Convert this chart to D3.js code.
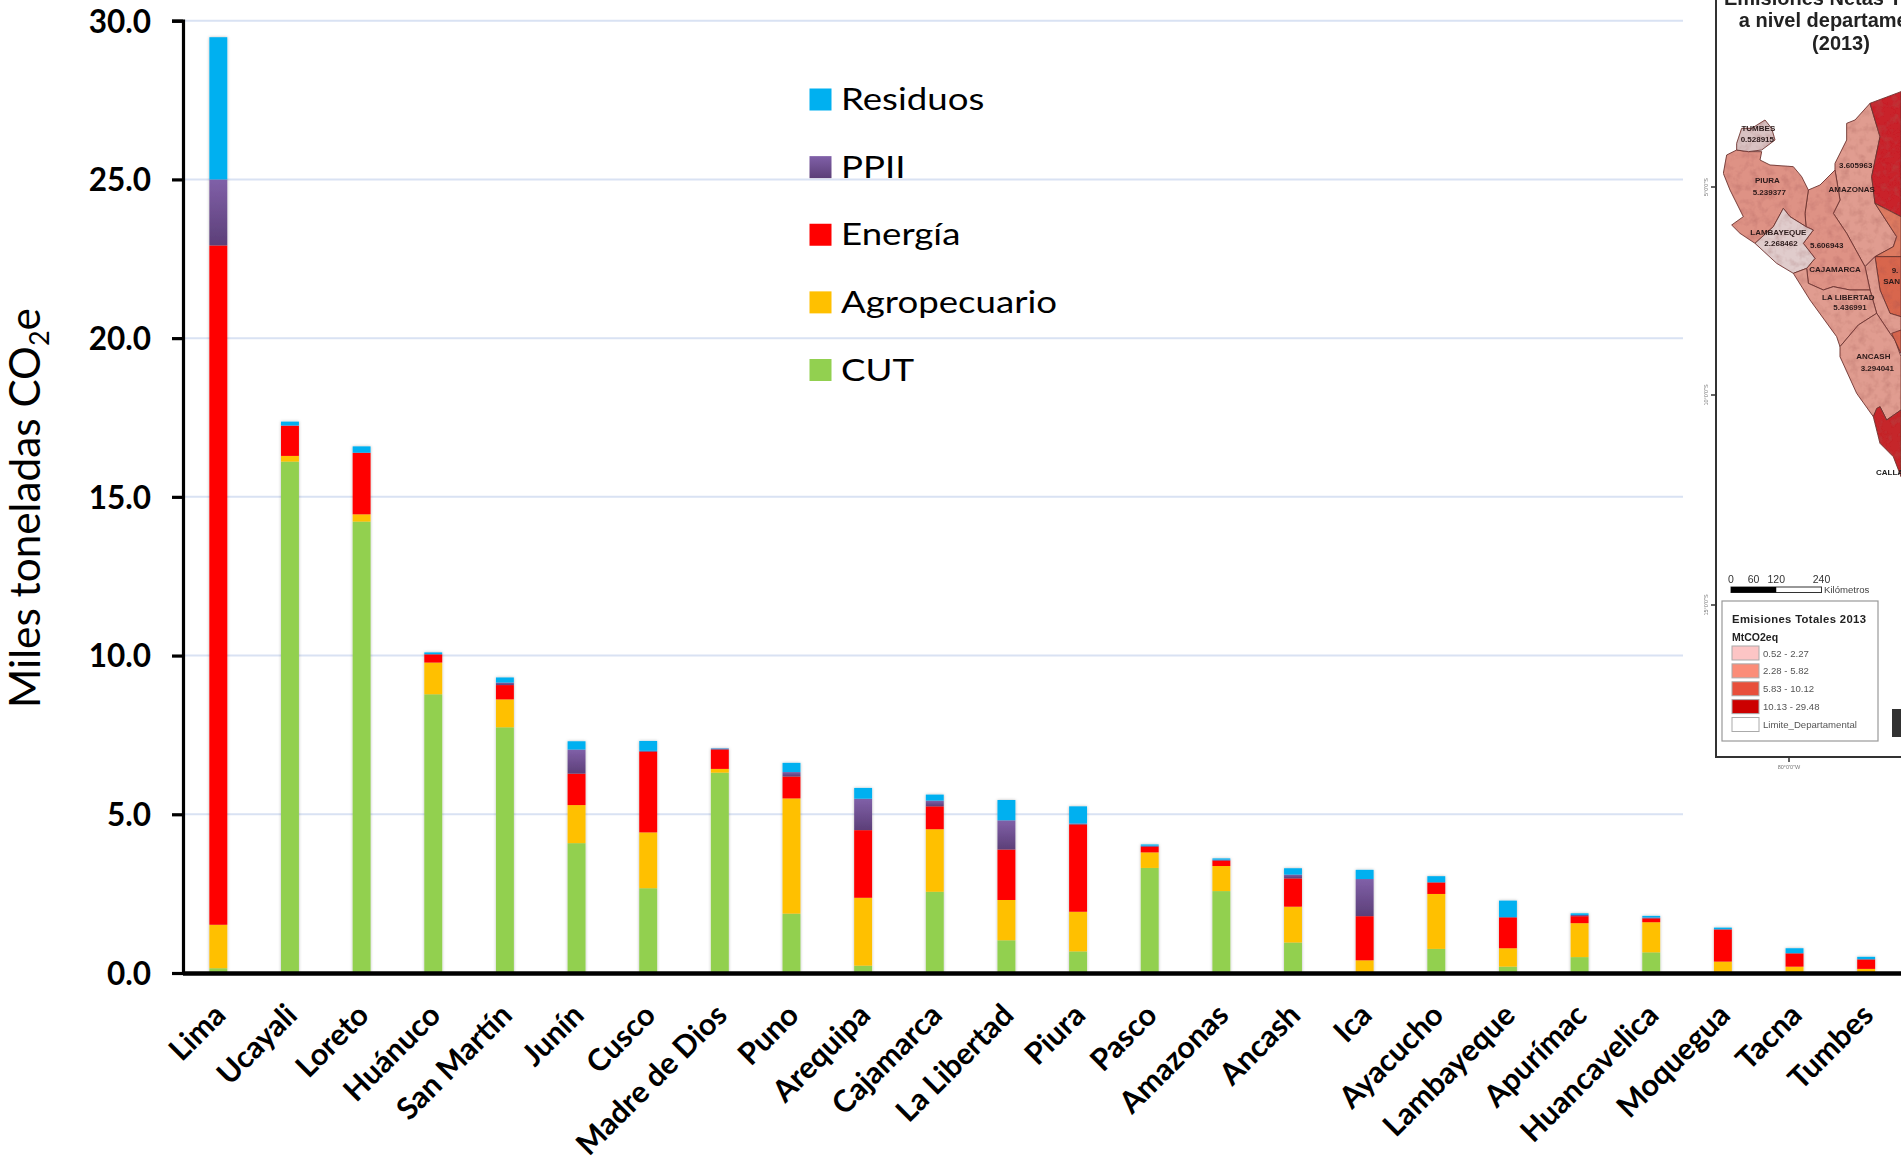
<!DOCTYPE html>
<html>
<head>
<meta charset="utf-8">
<script src="https://cdn.jsdelivr.net/npm/d3@7"></script>
<style>
  html, body { margin: 0; padding: 0; background: #fff; overflow: hidden; }
  svg { display: block; }
</style>
</head>
<body>
<svg id="canvas" width="1901" height="1162"></svg>
<script>
let departamentos = ['Lima','Ucayali','Loreto','Huánuco','San Martín','Junín','Cusco','Madre de Dios','Puno','Arequipa','Cajamarca','La Libertad','Piura','Pasco','Amazonas','Ancash','Ica','Ayacucho','Lambayeque','Apurímac','Huancavelica','Moquegua','Tacna','Tumbes']

// values, same order as departamentos
let cut      = [0.15,16.11,14.22,8.78,7.74,4.09,2.67,6.31,1.87,0.23,2.56,1.03,0.68,3.31,2.58,0.96,0.03,0.76,0.20,0.50,0.65,0.00,0.00,0.00]
let agro     = [1.37,0.18,0.23,1.00,0.88,1.20,1.76,0.12,3.63,2.14,1.97,1.27,1.25,0.49,0.79,1.13,0.37,1.73,0.58,1.07,0.95,0.36,0.20,0.13]
let energia  = [21.40,0.95,1.94,0.26,0.45,0.99,2.54,0.61,0.69,2.13,0.72,1.59,2.75,0.18,0.17,0.89,1.39,0.36,0.97,0.22,0.12,1.01,0.42,0.30]
let ppii     = [2.08,0.01,0.00,0.00,0.08,0.76,0.03,0.03,0.14,0.99,0.18,0.92,0.03,0.03,0.03,0.12,1.17,0.01,0.01,0.04,0.03,0.01,0.00,0.00]
let residuos = [4.48,0.12,0.20,0.06,0.16,0.26,0.31,0.01,0.29,0.34,0.19,0.64,0.54,0.04,0.04,0.20,0.29,0.19,0.52,0.05,0.05,0.05,0.16,0.08]

let seriesKeys = ['CUT','Agropecuario','Energía','PPII','Residuos']
let legendOrder = ['Residuos','PPII','Energía','Agropecuario','CUT']
let yTicks = [0,5,10,15,20,25,30]

let mapLegendTitle = 'Emisiones Totales 2013'
let mapLegendUnit = 'MtCO2eq'
let mapLegendLabels = ['0.52 - 2.27','2.28 - 5.82','5.83 - 10.12','10.13 - 29.48','Limite_Departamental']
let scaleBarLabels = [0,60,120,240]

let colors = {'CUT':'#92d050','Agropecuario':'#ffc000','Energía':'#ff0000','PPII':'url(#ppiiGrad)','Residuos':'#00b0f0'}
let sansFont = 'Lato, Carlito, sans-serif'
let mapFont = '"Liberation Sans", Arial, sans-serif'

let svg = d3.select('#canvas')
let defs = svg.append('defs')

let grad = defs.append('linearGradient').attr('id','ppiiGrad').attr('x1',0).attr('x2',0).attr('y1',0).attr('y2',1)
grad.append('stop').attr('offset','0%').attr('stop-color','#8060a8')
grad.append('stop').attr('offset','100%').attr('stop-color','#5c3f78')

let shadow = defs.append('filter').attr('id','barShadow').attr('x','-30%').attr('width','160%').attr('y','-5%').attr('height','110%')
shadow.append('feDropShadow').attr('dx',0).attr('dy',0).attr('stdDeviation',1.6).attr('flood-color','#000').attr('flood-opacity',0.28)

let soft = defs.append('filter').attr('id','soft')
soft.append('feGaussianBlur').attr('stdDeviation',0.5)

// hillshade look for the inset map
let relief = defs.append('filter').attr('id','relief').attr('x',0).attr('y',0).attr('width','100%').attr('height','100%')
relief.append('feTurbulence').attr('type','fractalNoise').attr('baseFrequency',0.12).attr('numOctaves',3).attr('seed',4).attr('result','n')
relief.append('feColorMatrix').attr('in','n').attr('type','matrix')
  .attr('values','0 0 0 0 0.35  0 0 0 0 0.08  0 0 0 0 0.08  0.8 0 0 0 -0.36').attr('result','s')
relief.append('feComposite').attr('in','s').attr('in2','SourceAlpha').attr('operator','in').attr('result','t')
relief.append('feMerge').selectAll('feMergeNode').data(['SourceGraphic','t']).enter().append('feMergeNode').attr('in',d => d)

// ---- chart ----
let x = d3.scaleBand().domain(departamentos).range([182.5,1902]).paddingInner(0.75).paddingOuter(0.375)
let y = d3.scaleLinear().domain([0,30]).range([973,20.7])

let rows = departamentos.map((d,i) => ({
  name: d, 'CUT': cut[i], 'Agropecuario': agro[i], 'Energía': energia[i], 'PPII': ppii[i], 'Residuos': residuos[i]
}))
let stacked = d3.stack().keys(seriesKeys)(rows)

svg.append('g').selectAll('line')
  .data(yTicks.filter(d => d > 0))
  .enter().append('line')
  .attr('x1',184).attr('x2',1683)
  .attr('y1',d => y(d)).attr('y2',d => y(d))
  .attr('stroke','#d9e2f3').attr('stroke-width',2)

// legend sits on top of the gridlines
let legendY = d3.scalePoint().domain(legendOrder).range([99.5,370])
let legend = svg.append('g').selectAll('g').data(legendOrder).enter().append('g')
  .attr('transform',d => `translate(809.5,${legendY(d)})`)
legend.append('rect').attr('x',0).attr('y',-11).attr('width',22).attr('height',22).attr('fill',d => colors[d])
legend.append('text')
  .attr('transform','translate(31.5,10.5) scale(1.163,1)')
  .attr('font-family',sansFont).attr('font-size',31.5).attr('fill','#000').text(d => d)

let bars = svg.append('g').attr('filter','url(#barShadow)')
bars.selectAll('g').data(stacked).enter().append('g')
  .attr('fill',d => colors[d.key])
  .selectAll('rect').data(d => d).enter().append('rect')
  .attr('x',d => x(d.data.name))
  .attr('width',x.bandwidth())
  .attr('y',d => y(d[1]))
  .attr('height',d => y(d[0]) - y(d[1]))

let yAxis = svg.append('g').attr('transform','translate(183,0)')
  .call(d3.axisLeft(y).tickValues(yTicks).tickFormat(d3.format('.1f')).tickSize(11).tickPadding(21))
yAxis.select('.domain').attr('stroke','#000').attr('stroke-width',3.2)
yAxis.selectAll('.tick line').attr('stroke','#000').attr('stroke-width',3.2)
yAxis.selectAll('text').attr('font-family',sansFont).attr('font-weight',700).attr('font-size',31.5).attr('fill','#000').attr('dy','0.36em')

let xAxis = svg.append('g').attr('transform','translate(0,973)')
  .call(d3.axisBottom(x).tickSize(0))
xAxis.select('.domain').attr('stroke','#000').attr('stroke-width',4.4)
xAxis.selectAll('text')
  .attr('font-family',sansFont).attr('font-weight',700).attr('font-size',30.4).attr('fill','#000')
  .attr('text-anchor','end')
  .attr('transform','translate(-6,29) rotate(-45)')
  .attr('x',0).attr('y',0).attr('dy','0.7em')

let yTitle = svg.append('text')
  .attr('transform','translate(40,508) rotate(-90)')
  .attr('text-anchor','middle')
  .attr('font-family',sansFont).attr('font-size',42.3).attr('fill','#000')
yTitle.append('tspan').text('Miles toneladas CO')
yTitle.append('tspan').attr('font-size',27).attr('dy',9).text('2')
yTitle.append('tspan').attr('dy',-9).text('e')

// ---- inset map (traced in crop units, then scaled to the page) ----
let mapX = d3.scaleLinear().domain([0,663]).range([1680,1901])
let mapY = d3.scaleLinear().domain([0,1200]).range([0,400])
let mapLine = d3.line().x(d => mapX(d[0])).y(d => mapY(d[1])).curve(d3.curveLinearClosed)

let mapRegions = [
  {fill:'#e09c90', pts:[[570,310],[525,360],[500,370],[500,420],[465,490],[465,510],[480,600],[460,640],[500,700],[555,800],[585,770],[640,740],[650,710],[585,610],[575,530],[600,410]]},
  {fill:'#c9202a', pts:[[570,310],[663,275],[663,650],[585,610],[575,530],[600,410]]},
  {fill:'#dd7a60', pts:[[585,610],[663,650],[663,770],[585,770],[640,740],[650,710]]},
  {fill:'#d8664d', pts:[[585,770],[663,770],[663,950],[630,940],[600,870]]},
  {fill:'#e09c90', pts:[[555,800],[585,770],[600,870],[630,940],[663,950],[663,1060],[630,1000],[590,940],[570,870]]},
  {fill:'#de9285', pts:[[385,570],[420,555],[465,510],[480,600],[460,640],[500,700],[555,800],[570,870],[510,870],[460,860],[430,870],[385,850],[380,805],[405,775],[370,730],[400,690],[378,680],[375,640]]},
  {fill:'#de9285', pts:[[130,520],[140,465],[170,450],[205,455],[245,455],[240,480],[270,495],[340,500],[365,530],[385,570],[375,640],[378,680],[330,650],[310,625],[280,680],[225,730],[180,700],[155,675],[190,650],[165,600],[150,570]]},
  {fill:'#e0cccc', pts:[[225,730],[280,680],[310,625],[330,650],[378,680],[400,690],[370,730],[405,775],[380,805],[340,820],[290,790]]},
  {fill:'#d9c2c2', pts:[[170,430],[185,385],[215,385],[255,360],[275,385],[285,420],[245,450],[205,455],[170,450]]},
  {fill:'#e09c90', pts:[[340,820],[380,805],[385,850],[430,870],[460,860],[510,870],[570,870],[590,940],[535,975],[480,1040],[470,1010],[390,900]]},
  {fill:'#e09c90', pts:[[480,1040],[535,975],[590,940],[630,1000],[645,1020],[663,1070],[663,1230],[620,1260],[600,1220],[590,1230],[580,1250],[530,1180],[480,1070]]},
  {fill:'#d8664d', pts:[[635,1000],[663,990],[663,1060]]},
  {fill:'#c5282a', pts:[[580,1250],[590,1225],[600,1220],[620,1260],[663,1230],[663,1430],[640,1370],[600,1330]]}
]

let mapLabels = [
  ['TUMBES',235,385],['0.528915',232,418],['PIURA',262,540],['5.239377',268,577],
  ['LAMBAYEQUE',295,698],['2.268462',303,730],['5.606943',440,737],['CAJAMARCA',465,808],
  ['LA LIBERTAD',505,893],['5.436991',510,922],['ANCASH',580,1070],['3.294041',592,1105],
  ['3.605963',527,497],['AMAZONAS',515,567],['9.',645,810],['SAN',635,845]
]
let frameTicks = [[187,'5°0\'0"S'],[395,'10°0\'0"S'],[605,'15°0\'0"S']]

let inset = svg.append('g').attr('filter','url(#soft)')
inset.append('rect').attr('x',1684).attr('y',0).attr('width',217).attr('height',790).attr('fill','#fff')

inset.append('g').attr('filter','url(#relief)').selectAll('path').data(mapRegions).enter().append('path')
  .attr('d',d => mapLine(d.pts)).attr('fill',d => d.fill)
  .attr('stroke','#6b3330').attr('stroke-width',0.9).attr('stroke-linejoin','round')

inset.append('g').selectAll('text').data(mapLabels).enter().append('text')
  .attr('x',d => mapX(d[1])).attr('y',d => mapY(d[2]) + 2.8)
  .attr('text-anchor','middle').attr('font-family',mapFont).attr('font-weight',700).attr('font-size',8)
  .attr('fill','#2c1a1a').text(d => d[0])
inset.append('text').attr('x',1876).attr('y',475).attr('font-family',mapFont).attr('font-weight',700).attr('font-size',8).attr('fill','#222').text('CALLAO')

// frame
inset.append('path').attr('d','M1716,0V757H1901').attr('fill','none').attr('stroke','#333').attr('stroke-width',2)
inset.append('g').selectAll('line').data(frameTicks).enter().append('line')
  .attr('x1',1711).attr('x2',1716).attr('y1',d => d[0]).attr('y2',d => d[0]).attr('stroke','#333').attr('stroke-width',1.5)
inset.append('g').selectAll('text').data(frameTicks).enter().append('text')
  .attr('transform',d => `translate(1708,${d[0]}) rotate(-90)`)
  .attr('text-anchor','middle').attr('font-family',mapFont).attr('font-size',5.5).attr('fill','#777').text(d => d[1])
inset.append('line').attr('x1',1789).attr('x2',1789).attr('y1',757).attr('y2',762).attr('stroke','#333').attr('stroke-width',1.5)
inset.append('text').attr('x',1789).attr('y',769).attr('text-anchor','middle').attr('font-family',mapFont).attr('font-size',5.5).attr('fill','#777').text('80°0\'0"W')

// title, cut by the top edge like the source
let titleLines = [['Emisiones Netas Totales',5],['a nivel departamental',27],['(2013)',50]]
inset.append('g').selectAll('text').data(titleLines).enter().append('text')
  .attr('x',1841).attr('y',d => d[1]).attr('text-anchor','middle')
  .attr('font-family',mapFont).attr('font-weight',700).attr('font-size',20).attr('fill','#222').text(d => d[0])

// scale bar
let barX = d3.scaleLinear().domain([0,240]).range([1731,1821.5])
inset.append('rect').attr('x',barX(0)).attr('y',587).attr('width',barX(240)-barX(0)).attr('height',5.5).attr('fill','#fff').attr('stroke','#333')
inset.append('rect').attr('x',barX(0)).attr('y',587).attr('width',barX(120)-barX(0)).attr('height',5.5).attr('fill','#000')
inset.append('g').selectAll('text').data(scaleBarLabels).enter().append('text')
  .attr('x',d => barX(d)).attr('y',583).attr('text-anchor','middle')
  .attr('font-family',mapFont).attr('font-size',10.5).attr('fill','#333').text(d => d)
inset.append('text').attr('x',1824).attr('y',592.5).attr('font-family',mapFont).attr('font-size',9.6).attr('fill','#444').text('Kilómetros')

// map legend
inset.append('rect').attr('x',1722).attr('y',601).attr('width',156).attr('height',140).attr('fill','#fff').attr('stroke','#999').attr('stroke-width',1.2)
inset.append('text').attr('x',1732).attr('y',623).attr('font-family',mapFont).attr('font-weight',700).attr('font-size',11.3).attr('letter-spacing',0.35).attr('fill','#222').text(mapLegendTitle)
inset.append('text').attr('x',1732).attr('y',641).attr('font-family',mapFont).attr('font-weight',700).attr('font-size',10.5).attr('fill','#222').text(mapLegendUnit)
let mapLegendColors = ['#fcc5c5','#fb8d78','#e8503a','#cc0000','#ffffff']
let mapLegendY = d3.scalePoint().domain(mapLegendLabels).range([653,724.5])
let mapLeg = inset.append('g').selectAll('g').data(mapLegendLabels).enter().append('g')
  .attr('transform',d => `translate(1732,${mapLegendY(d)})`)
mapLeg.append('rect').attr('y',-7).attr('width',27).attr('height',14)
  .attr('fill',(d,i) => mapLegendColors[i]).attr('stroke','#aaa')
mapLeg.append('text').attr('x',31).attr('y',3.5).attr('font-family',mapFont).attr('font-size',9.6).attr('fill','#555').text(d => d)

inset.append('rect').attr('x',1892).attr('y',709).attr('width',9).attr('height',28).attr('fill','#333')
</script>
</body>
</html>
